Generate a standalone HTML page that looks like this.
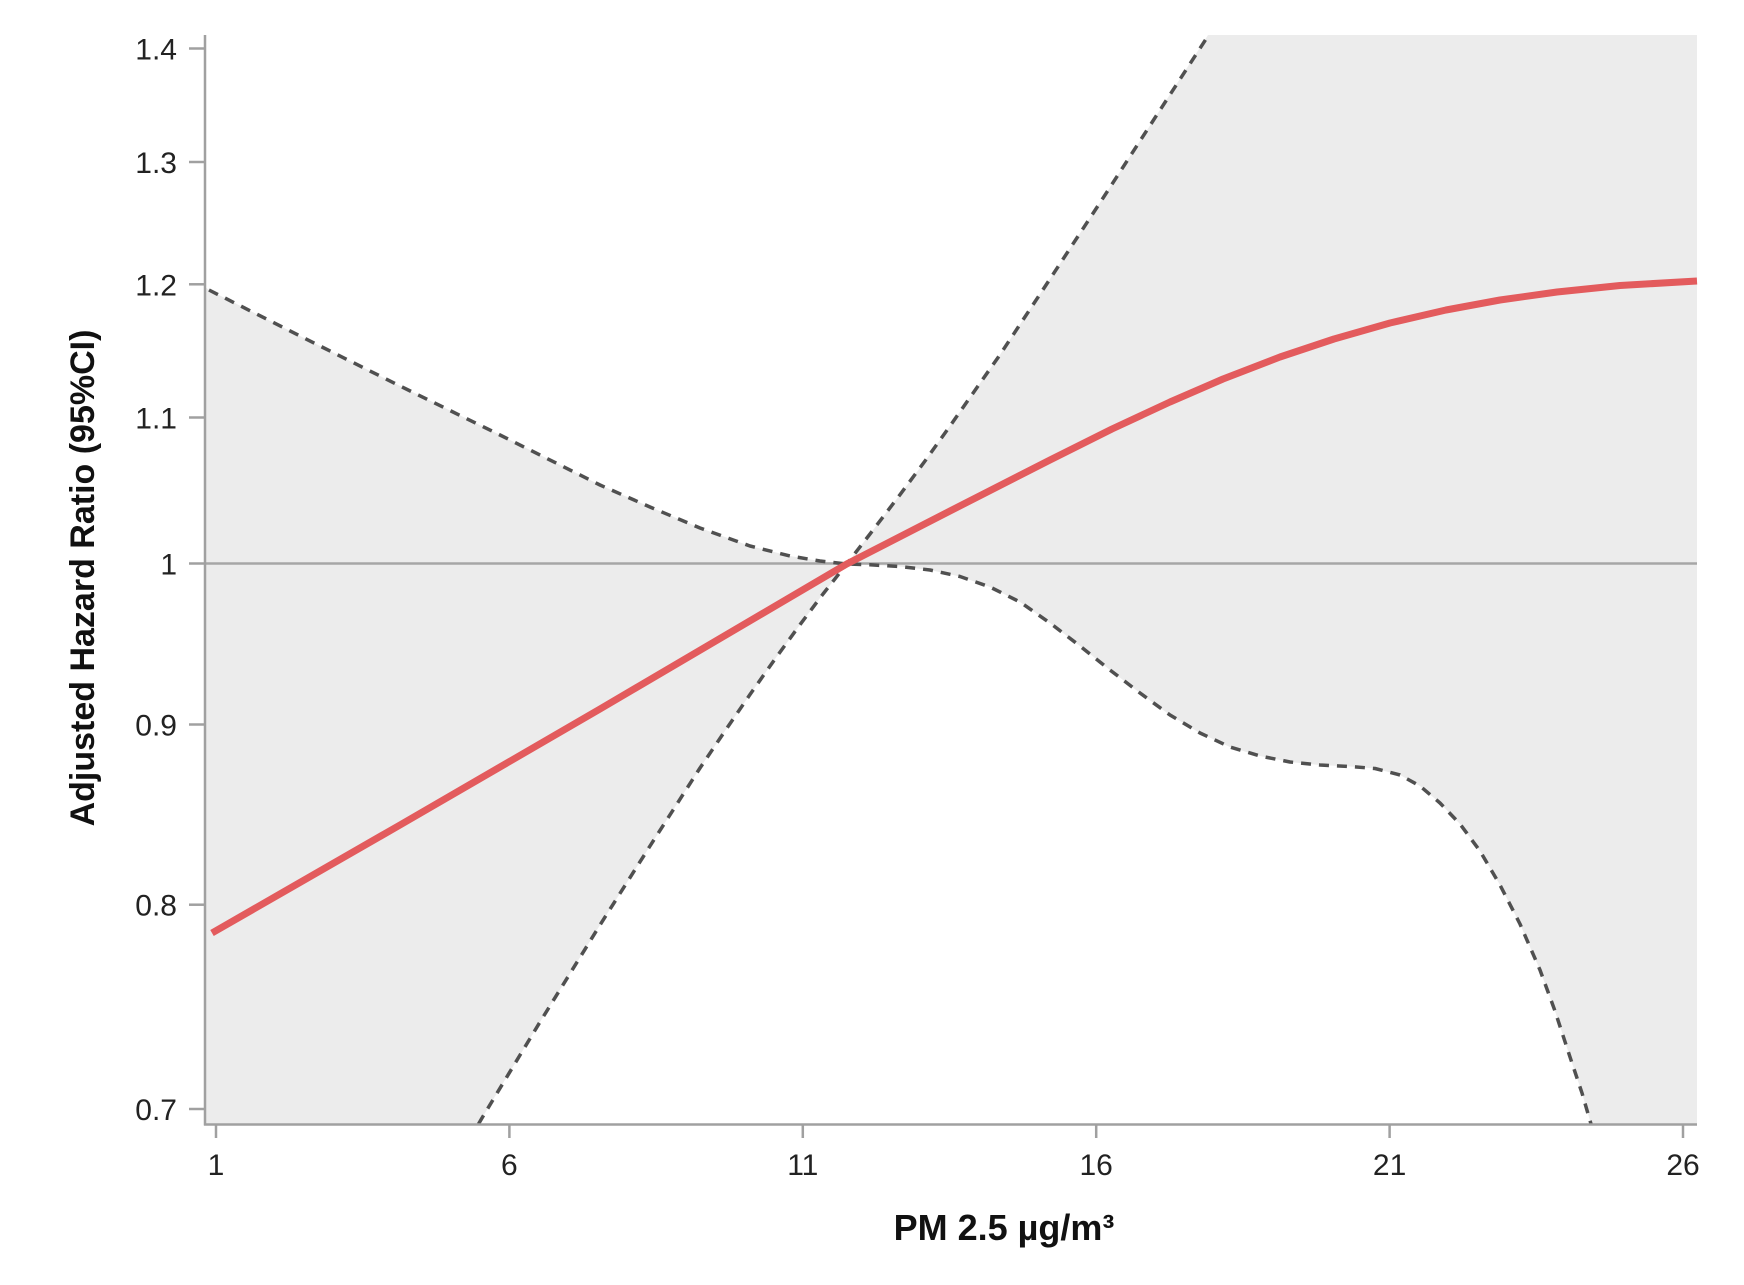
<!DOCTYPE html>
<html>
<head>
<meta charset="utf-8">
<style>
  html,body{margin:0;padding:0;background:#fff;}
  svg{display:block;}
  text{font-family:"Liberation Sans", Arial, sans-serif;}
</style>
</head>
<body>
<svg width="1744" height="1285" viewBox="0 0 1744 1285" xmlns="http://www.w3.org/2000/svg">
  <rect width="1744" height="1285" fill="#ffffff"/>

  <!-- CI shading -->
  <path fill="#ececec" d="
    M205,287 L209,290 L300,336 L400,386 L500,435 L600,485 L650,507 L700,528 L750,546 L790,556 L820,561 L846.7,564
    L823,594 L800,624.7 L775,659 L750,694.5 L725,731 L700,768 L650,846 L600,925 L540,1022 L482,1118 L478.5,1124 L205,1124 Z"/>
  <path fill="#ececec" d="
    M846.7,564 L870,534 L900,494.7 L925,461 L950,426 L1000,354.7 L1050,279 L1100,202.7 L1150,125.5 L1208,35 L1697,35 L1697,1124 L1591,1124
    L1582,1093 L1570,1057 L1555,1011 L1540,970 L1520,924 L1500,885 L1480,851 L1460,824 L1440,803 L1420,786 L1400,775
    L1375,768.5 L1350,766.5 L1320,765 L1290,762 L1260,756 L1230,747 L1200,733 L1170,715 L1140,693 L1110,670 L1080,646
    L1050,623 L1020,602 L990,587 L960,576.5 L930,570 L900,566.5 L870,564.8 Z"/>

  <!-- reference line at HR = 1 -->
  <line x1="205" y1="563.5" x2="1697" y2="563.5" stroke="#a6a6a6" stroke-width="2.5"/>

  <!-- dashed CI bounds -->
  <g fill="none" stroke="#505050" stroke-width="3.5" stroke-dasharray="10 8" stroke-linejoin="round">
    <polyline points="209,290 300,336 400,386 500,435 600,485 650,507 700,528 750,546 790,556 820,561 846.7,564 870,564.8 900,566.5 930,570 960,576.5 990,587 1020,602 1050,623 1080,646 1110,670 1140,693 1170,715 1200,733 1230,747 1260,756 1290,762 1320,765 1350,766.5 1375,768.5 1400,775 1420,786 1440,803 1460,824 1480,851 1500,885 1520,924 1540,970 1555,1011 1570,1057 1582,1093 1591,1124"/>
    <polyline points="478.5,1124 482,1118 540,1022 600,925 650,846 700,768 725,731 750,694.5 775,659 800,624.7 823,594 846.7,564 870,534 900,494.7 925,461 950,426 1000,354.7 1050,279 1100,202.7 1150,125.5 1208,36"/>
  </g>

  <!-- estimate -->
  <polyline fill="none" stroke="#e35b5d" stroke-width="7" stroke-linejoin="round"
    points="212,933 400,825 600,709 846.7,564 950,511 1050,460 1112,429 1170,402 1223,379 1280,357 1334,339 1390,323 1446,310 1500,300 1557,292 1620,285.5 1697,281"/>

  <!-- axes -->
  <g stroke="#a0a0a0" stroke-width="2.5" fill="none">
    <line x1="205" y1="35" x2="205" y2="1125.5"/>
    <line x1="204" y1="1124.5" x2="1697" y2="1124.5"/>
    <!-- y ticks -->
    <line x1="189" y1="48.5" x2="205" y2="48.5"/>
    <line x1="189" y1="162" x2="205" y2="162"/>
    <line x1="189" y1="284.3" x2="205" y2="284.3"/>
    <line x1="189" y1="417.5" x2="205" y2="417.5"/>
    <line x1="189" y1="563.5" x2="205" y2="563.5"/>
    <line x1="189" y1="724.5" x2="205" y2="724.5"/>
    <line x1="189" y1="904.7" x2="205" y2="904.7"/>
    <line x1="189" y1="1109" x2="205" y2="1109"/>
    <!-- x ticks -->
    <line x1="216" y1="1125" x2="216" y2="1138"/>
    <line x1="509.4" y1="1125" x2="509.4" y2="1138"/>
    <line x1="802.8" y1="1125" x2="802.8" y2="1138"/>
    <line x1="1096.2" y1="1125" x2="1096.2" y2="1138"/>
    <line x1="1389.6" y1="1125" x2="1389.6" y2="1138"/>
    <line x1="1683" y1="1125" x2="1683" y2="1138"/>
  </g>

  <!-- y tick labels -->
  <g font-size="30" fill="#222" text-anchor="end">
    <text x="177" y="59.5">1.4</text>
    <text x="177" y="173">1.3</text>
    <text x="177" y="295.3">1.2</text>
    <text x="177" y="428.5">1.1</text>
    <text x="177" y="574.5">1</text>
    <text x="177" y="735.5">0.9</text>
    <text x="177" y="915.7">0.8</text>
    <text x="177" y="1120">0.7</text>
  </g>

  <!-- x tick labels -->
  <g font-size="30" fill="#222" text-anchor="middle">
    <text x="216" y="1175">1</text>
    <text x="509.4" y="1175">6</text>
    <text x="802.8" y="1175">11</text>
    <text x="1096.2" y="1175">16</text>
    <text x="1389.6" y="1175">21</text>
    <text x="1683" y="1175">26</text>
  </g>

  <!-- axis titles -->
  <text x="1004" y="1240" font-size="36" font-weight="bold" fill="#111" text-anchor="middle">PM 2.5 µg/m³</text>
  <text transform="translate(94,578) rotate(-90)" x="0" y="0" font-size="34" font-weight="bold" fill="#111" text-anchor="middle">Adjusted Hazard Ratio (95%CI)</text>
</svg>
</body>
</html>
